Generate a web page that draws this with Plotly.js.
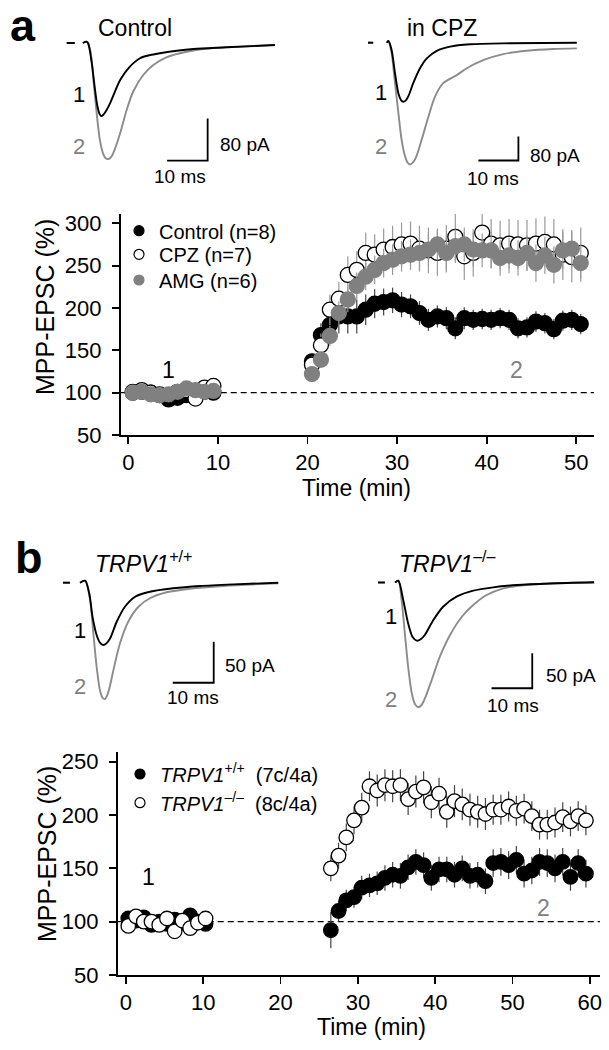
<!DOCTYPE html>
<html><head><meta charset="utf-8">
<script src="https://cdn.plot.ly/plotly-3.0.1.min.js"></script>
<style>html,body{margin:0;padding:0;background:#fff;}#chart{width:609px;height:1050px;}</style>
</head><body><div id="chart"></div>
<script>
// ---------------- DATA ----------------
// Panel a time course (min) and MPP-EPSC (% of baseline)
const timeA = [0.5,1.5,2.5,3.5,4.5,5.5,6.5,7.5,8.5,9.5,
  20.5,21.5,22.5,23.5,24.5,25.5,26.5,27.5,28.5,29.5,30.5,31.5,32.5,33.5,34.5,35.5,36.5,37.5,38.5,39.5,40.5,41.5,42.5,43.5,44.5,45.5,46.5,47.5,48.5,49.5,50.5];
const controlA = [100,101,100,97,92,94,97,99,101,100,
  137,168,180,190,190,190,198,205,207,209,204,202,194,186,190,188,176,188,186,187,186,188,186,176,177,184,182,175,185,186,181];
const controlAErr = [3,3,3,3,4,3,3,3,3,3,
  8,14,18,20,20,20,18,17,16,15,15,14,14,13,13,13,13,13,12,12,12,12,12,12,12,12,12,12,12,12,12];
const cpzA = [101,103,100,98,97,101,103,93,106,108,
  133,156,198,211,239,245,265,263,269,272,275,276,270,268,265,270,284,261,265,289,276,274,276,275,274,276,278,275,263,260,265];
const cpzAErr = [4,4,4,4,4,5,5,6,7,8,
  10,14,18,20,22,22,24,24,25,25,26,26,27,27,27,28,28,28,28,29,29,29,29,29,30,30,30,30,30,30,30];
const amgA = [100,101,98,97,98,101,105,103,101,102,
  122,139,167,194,210,226,237,245,253,257,261,263,265,269,275,265,273,275,269,268,268,259,262,259,265,253,262,251,268,270,253];
const amgAErr = [3,3,3,3,3,3,4,4,4,4,
  6,10,12,14,15,16,16,17,17,18,18,18,19,19,19,20,20,20,20,20,21,21,21,21,21,22,22,22,22,22,22];

// Panel b time course
const timeB = [0.3,1.3,2.3,3.3,4.3,5.3,6.3,7.3,8.3,9.3,10.3,
  26.5,27.5,28.5,29.5,30.5,31.5,32.5,33.5,34.5,35.5,36.5,37.5,38.5,39.5,40.5,41.5,42.5,43.5,44.5,45.5,46.5,47.5,48.5,49.5,50.5,51.5,52.5,53.5,54.5,55.5,56.5,57.5,58.5,59.5];
const wtB = [103,101,104,97,100,98,102,99,106,100,98,
  92,110,120,123,132,134,136,141,144,143,151,156,153,141,149,149,144,150,143,144,138,155,156,153,158,145,148,156,155,150,156,142,155,145];
const wtBErr = [4,4,4,4,4,4,4,4,4,4,4,
  17,10,10,10,11,11,11,12,12,12,12,12,12,12,12,12,12,12,12,12,12,13,13,13,13,13,13,13,13,13,13,13,13,13];
const koB = [96,105,100,100,97,103,91,101,94,99,103,
  150,162,179,195,207,227,223,228,227,228,215,222,226,212,220,203,213,210,205,203,201,205,205,208,204,206,199,191,191,193,198,194,199,195];
const koBErr = [4,4,4,4,4,4,4,4,4,4,4,
  12,12,13,13,14,14,15,15,15,15,15,15,15,15,15,15,15,15,15,15,15,14,14,14,14,14,14,14,14,14,14,14,14,14];

const baselinePct = 100;

// Example EPSC traces: time (ms), current (pA); null = gap after stimulus
const ctrlT  = [0,2.0,null,4.0,4.9,5.3,6.2,7.0,7.6,8.1,8.5,9.0,9.6,10.7,13.2,15.6,18.1,20.6,23.0,27.2,31.3,39.5,51.4];
const ctrl1  = [0,0,null,0,2.5,-0.6,-38.7,-89.5,-121,-135,-139,-137,-131,-115,-70.5,-45,-29,-23,-19.6,-14.7,-11.4,-8.2,-3.8];
const ctrl2T = [0,2.0,null,4.0,4.9,5.8,6.6,7.4,8.2,9.0,9.7,10.3,11.0,11.7,13.2,14.8,16.4,18.9,21.4,24.6,29.6,35.4,43.6,51.4];
const ctrl2  = [0,0,null,0,2.5,-13,-70.5,-134,-185,-211,-220,-221,-217,-206,-172,-127.6,-92.8,-61,-42,-27.2,-16.6,-10.1,-7.0,-3.8];

const cpz1T = [0,1.3,null,4.7,5.1,5.9,6.75,7.6,8.3,8.8,9.4,10.1,11.3,13.0,14.7,17.2,20.5,25.5,35.5,52.2];
const cpz1  = [0,0,null,0,5.7,-24,-102,-169,-192,-197,-193,-178,-135,-85,-52,-27,-13,-5.3,-2,0];
const cpz2T = [0,1.3,null,4.7,5.1,5.9,6.75,7.6,8.4,9.25,9.9,10.5,11.2,12.0,13.4,15.1,16.75,18.8,22.2,24.7,28.8,33.8,39.7,46.3,52.2];
const cpz2  = [0,0,null,0,5.7,-35,-135,-235,-324,-378,-400,-406,-400,-382,-324,-247,-180,-135,-108,-85,-58,-38,-27,-21,-19];

const wt1T = [0,1.7,null,4.15,5.4,6.4,7.2,8.2,9.0,9.8,10.6,11.5,13.1,15.1,17.6,21.2,26.9,33.4,41.5,52.5];
const wt1  = [0,0,null,0,2.4,-12.9,-41.5,-63.8,-73,-76,-74,-67.8,-47.6,-29.3,-17.1,-11,-6.8,-4,-2,0];
const wt2T = [0,1.7,null,4.15,5.4,6.6,7.4,8.2,9.0,9.6,10.2,10.8,11.5,12.3,13.9,15.9,18.4,21.2,25.3,31.0,39.1,52.5];
const wt2  = [0,0,null,0,2.4,-21,-61.7,-102.4,-130.9,-140,-142,-137,-125,-106.5,-73.9,-47.6,-29.3,-19,-11.7,-7.3,-4,-0.7];

const ko1T = [0,1.7,null,4.2,5.0,6.2,7.4,8.5,9.5,10.5,11.5,13.6,16.0,19.3,23.4,28.3,34.1,42.3,53.1];
const ko1  = [0,0,null,0,2.6,-25,-58.3,-78,-83.1,-81,-75,-53.6,-34.6,-20.3,-11.7,-6.9,-3.6,-1.4,0.3];
const ko2T = [0,1.7,null,4.2,5.0,5.8,6.6,7.4,8.3,9.1,9.9,10.7,11.5,13.2,15.2,17.7,20.6,23.4,26.7,30.8,34.1,42.3,53.1];
const ko2  = [0,0,null,0,2.6,-25,-72.6,-120.3,-158.3,-174,-178.3,-175,-166,-139.3,-106,-75,-48.9,-32.1,-17.9,-8.3,-5,-1.4,0];

const scaleMs = 10;
const scalePA_a = 80;
const scalePA_b = 50;

const xTicksA = [0,10,20,30,40,50];
const yTicksA = [50,100,150,200,250,300];
const xTicksB = [0,10,20,30,40,50,60];
const yTicksB = [50,100,150,200,250];

// ---------------- LAYOUT HELPERS ----------------
const W = 609, H = 1050;
const fx = p => p / W;
const fy = p => 1 - p / H;
const FONT = 'Liberation Sans, Arial, Helvetica, sans-serif';
const GREY = '#808080';
const TGREY = '#8c8c8c';

function scaleBar(xa, ya, x0, y0, dy) {
  return {x:[x0, x0 + scaleMs, x0 + scaleMs], y:[y0, y0, y0 + dy], xaxis:xa, yaxis:ya,
    mode:'lines', line:{color:'#000', width:1.8}, showlegend:false, hoverinfo:'skip'};
}
function wave(xa, ya, t, v, col) {
  return {x:t, y:v, xaxis:xa, yaxis:ya, mode:'lines', line:{color:col, width:1.9, shape:'spline', smoothing:0.8},
    connectgaps:false, showlegend:false, hoverinfo:'skip'};
}

const traces = [];
// waveforms
traces.push(wave('x3','y3', ctrl2T, ctrl2, TGREY));
traces.push(wave('x3','y3', ctrlT, ctrl1, '#000'));
traces.push(scaleBar('x3','y3', 24.8, -224, scalePA_a));
traces.push(wave('x4','y4', cpz2T, cpz2, TGREY));
traces.push(wave('x4','y4', cpz1T, cpz1, '#000'));
traces.push(scaleBar('x4','y4', 27.6, -392.7, scalePA_a));
traces.push(wave('x5','y5', wt2T, wt2, TGREY));
traces.push(wave('x5','y5', wt1T, wt1, '#000'));
traces.push(scaleBar('x5','y5', 26.76, -122, scalePA_b));
traces.push(wave('x6','y6', ko2T, ko2, TGREY));
traces.push(wave('x6','y6', ko1T, ko1, '#000'));
traces.push(scaleBar('x6','y6', 27.9, -151.1, scalePA_b));

// time courses
function series(x, y, err, xa, ya, fill, lineCol, errCol, size) {
  return {x:x, y:y, xaxis:xa, yaxis:ya, type:'scatter', mode:'markers', showlegend:false,
    marker:{size:size, color:fill, line:{color:lineCol, width:1.3}},
    error_y:{type:'data', array:err, visible:true, color:errCol, thickness:1.2, width:0},
    hoverinfo:'skip'};
}
// legend entries (symbol only, no data points)
function key(xa, ya, name, fill, lineCol, legend) {
  return {x:[null], y:[null], xaxis:xa, yaxis:ya, name:name, type:'scatter', mode:'markers',
    marker:{size:10, color:fill, line:{color:lineCol, width:1.2}}, legend:legend, showlegend:true, hoverinfo:'skip'};
}
traces.push(series(timeA, controlA, controlAErr, 'x','y', '#000', '#000', '#444', 15));
traces.push(series(timeA, cpzA, cpzAErr, 'x','y', '#fff', '#000', '#999', 15));
traces.push(series(timeA, amgA, amgAErr, 'x','y', GREY, GREY, '#999', 15));
traces.push(series(timeB, wtB, wtBErr, 'x2','y2', '#000', '#000', '#444', 14.5));
traces.push(series(timeB, koB, koBErr, 'x2','y2', '#fff', '#000', '#444', 14.5));
traces.push(key('x','y', 'Control (n=8)', '#000', '#000', 'legend'));
traces.push(key('x','y', 'CPZ (n=7)', '#fff', '#000', 'legend2'));
traces.push(key('x','y', 'AMG (n=6)', GREY, GREY, 'legend3'));
traces.push(key('x2','y2', '<i>TRPV1</i><sup>+/+</sup>\u00a0\u00a0(7c/4a)', '#000', '#000', 'legend4'));
traces.push(key('x2','y2', '<i>TRPV1</i><sup>\u2013/\u2013</sup>\u00a0\u00a0(8c/4a)', '#fff', '#000', 'legend5'));

const axStyle = {showline:true, linecolor:'#000', linewidth:1.8, ticks:'outside', ticklen:7, tickwidth:1.8,
  tickcolor:'#000', showgrid:false, zeroline:false, tickfont:{family:FONT, size:22, color:'#000'}, fixedrange:true};
const hid = {visible:false, fixedrange:true};

function ann(text, x, y, size, opts) {
  return Object.assign({text:text, x:fx(x), y:fy(y), xref:'paper', yref:'paper', showarrow:false,
    xanchor:'center', yanchor:'middle', font:{family:FONT, size:size, color:'#000'}}, opts || {});
}
function leg(x, y) {
  return {x:fx(x), y:fy(y), xanchor:'left', yanchor:'middle', bgcolor:'rgba(0,0,0,0)', borderwidth:0,
    font:{family:FONT, size:20, color:'#000'}, itemsizing:'trace'};
}

const annotations = [
  ann('<b>a</b>', 23, 25, 45),
  ann('<b>b</b>', 29, 557, 45),
  ann('Control', 135, 27.5, 23),
  ann('in CPZ', 442.5, 28, 23),
  ann('1', 79, 94, 22),
  ann('2', 79, 146.7, 22, {font:{family:FONT, size:22, color:GREY}}),
  ann('1', 381, 93, 22),
  ann('2', 381, 146.7, 22, {font:{family:FONT, size:22, color:GREY}}),
  ann('80 pA', 218, 145, 19, {xanchor:'left'}),
  ann('10 ms', 180, 176.7, 19),
  ann('80 pA', 528, 155, 19, {xanchor:'left'}),
  ann('10 ms', 493, 178, 19),
  ann('1', 168.3, 370, 23),
  ann('2', 516.5, 370, 23, {font:{family:FONT, size:23, color:GREY}}),
  ann('MPP-EPSC (%)', 45, 307, 25, {textangle:-90}),
  ann('Time (min)', 357, 488, 23),
  ann('<i>TRPV1</i><sup>+/+</sup>', 93, 562, 23, {xanchor:'left'}),
  ann('<i>TRPV1</i><sup>\u2013/\u2013</sup>', 397, 562, 23, {xanchor:'left'}),
  ann('1', 80, 630, 22),
  ann('2', 80, 686.7, 22, {font:{family:FONT, size:22, color:GREY}}),
  ann('1', 391, 616.7, 22),
  ann('2', 391, 699, 22, {font:{family:FONT, size:22, color:GREY}}),
  ann('50 pA', 223, 666, 19, {xanchor:'left'}),
  ann('10 ms', 193.3, 697.3, 19),
  ann('50 pA', 543.7, 675, 19, {xanchor:'left'}),
  ann('10 ms', 512.6, 705, 19),
  ann('1', 148.3, 876.7, 23),
  ann('2', 543.7, 908.3, 23, {font:{family:FONT, size:23, color:GREY}}),
  ann('MPP-EPSC (%)', 47, 854, 25, {textangle:-90}),
  ann('Time (min)', 371, 1027, 23)
];

const layout = {
  width:W, height:H, margin:{l:0, r:0, t:0, b:0}, paper_bgcolor:'#fff', plot_bgcolor:'rgba(0,0,0,0)',
  font:{family:FONT, color:'#000'},
  xaxis: Object.assign({}, axStyle, {domain:[fx(120.7), fx(594)], range:[-0.848, 51.98], tickvals:xTicksA, anchor:'y', ticklabelstandoff:0}),
  yaxis: Object.assign({}, axStyle, {domain:[fy(435), fy(214)], range:[50, 310.98], tickvals:yTicksA, anchor:'x', ticklabelstandoff:6}),
  xaxis2: Object.assign({}, axStyle, {domain:[fx(117.7), fx(600)], range:[-1.07, 61.32], tickvals:xTicksB, anchor:'y2', ticklabelstandoff:0}),
  yaxis2: Object.assign({}, axStyle, {domain:[fy(975), fy(751.7)], range:[50, 259.4], tickvals:yTicksB, anchor:'x2', ticklabelstandoff:6}),
  xaxis3: Object.assign({}, hid, {domain:[fx(60), fx(290)], range:[(60-66.7)/4.05, (290-66.7)/4.05], anchor:'y3'}),
  yaxis3: Object.assign({}, hid, {domain:[fy(175), fy(30)], range:[-(175-43)/0.525, (43-30)/0.525], anchor:'x3'}),
  xaxis4: Object.assign({}, hid, {domain:[fx(360), fx(600)], range:[(360-368)/4, (600-368)/4], anchor:'y4'}),
  yaxis4: Object.assign({}, hid, {domain:[fy(175), fy(30)], range:[-(175-42.7)/0.3, (42.7-30)/0.3], anchor:'x4'}),
  xaxis5: Object.assign({}, hid, {domain:[fx(55), fx(290)], range:[(55-63)/4.1, (290-63)/4.1], anchor:'y5'}),
  yaxis5: Object.assign({}, hid, {domain:[fy(720), fy(570)], range:[-(720-582.7)/0.82, (582.7-570)/0.82], anchor:'x5'}),
  xaxis6: Object.assign({}, hid, {domain:[fx(370), fx(605)], range:[(370-378)/4.07, (605-378)/4.07], anchor:'y6'}),
  yaxis6: Object.assign({}, hid, {domain:[fy(720), fy(570)], range:[-(720-582.5)/0.7, (582.5-570)/0.7], anchor:'x6'}),
  shapes:[
    {type:'line', xref:'x domain', yref:'y', x0:0, x1:1, y0:baselinePct, y1:baselinePct, layer:'below',
      line:{color:'#000', width:1.3, dash:'6px,4px'}},
    {type:'line', xref:'x2 domain', yref:'y2', x0:0, x1:1, y0:baselinePct, y1:baselinePct, layer:'below',
      line:{color:'#000', width:1.3, dash:'6px,4px'}}
  ],
  legend: leg(119, 230.7),
  legend2: leg(119, 254.3),
  legend3: leg(119, 280),
  legend4: leg(120, 774),
  legend5: leg(120, 802.7),
  annotations:annotations,
  showlegend:true
};

Plotly.newPlot('chart', traces, layout, {displayModeBar:false, staticPlot:true});
</script></body></html>
